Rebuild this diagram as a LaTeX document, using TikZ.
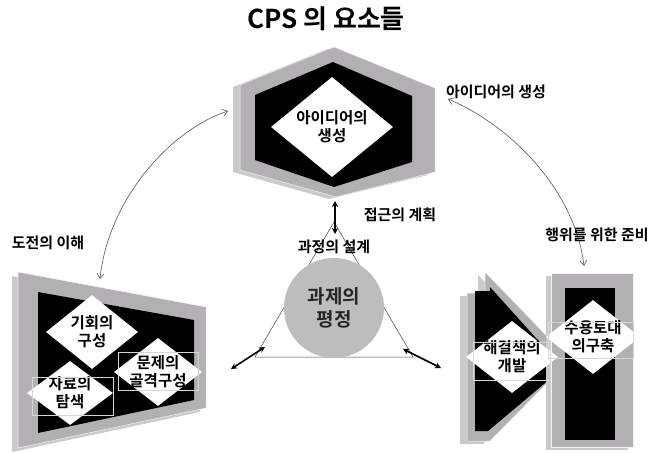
\documentclass[tikz,border=0pt]{standalone}
\usepackage{fontspec}
\setmainfont{Noto Sans CJK KR}[BoldFont={Noto Sans CJK KR Bold}]
\usetikzlibrary{shapes.geometric,arrows.meta}
\definecolor{gfront}{HTML}{B2B0B2}
\definecolor{gback}{HTML}{CACACA}
\definecolor{circfill}{HTML}{BDBDBD}
\definecolor{rectline}{HTML}{D6D6D6}
\definecolor{arcline}{HTML}{555555}
\begin{document}
\begin{tikzpicture}[x=1pt,y=-1pt,
  lbl/.style={font=\bfseries\fontsize{15}{18}\selectfont, align=center, inner sep=0},
  dia/.style={diamond, fill=white, draw=none, inner sep=0},
  dtext/.style={font=\bfseries\fontsize{15.5}{18}\selectfont, align=center, inner sep=0},
  frontgray/.style={fill=gfront, draw=white!85!gfront, line width=0.5pt},
  backgray/.style={fill=gback},
  boxline/.style={draw=rectline, line width=0.6pt},
  thickarrow/.style={line width=1.6pt, {Stealth[length=6pt,width=6pt]}-{Stealth[length=6pt,width=6pt]}},
  arcarrow/.style={draw=arcline, line width=0.6pt, {Straight Barb[length=5pt,width=7pt]}-{Straight Barb[length=5pt,width=7pt]}},
  triline/.style={draw=black!75, line width=0.5pt}
]
\useasboundingbox (0,0) rectangle (652,452);

% title
\node[font=\bfseries\fontsize{26}{30}\selectfont] (title) at (326,19) {CPS 의 요소들};

% ---------- top hexagon ----------
\fill[backgray] (327,49) -- (428,90) -- (428,175) -- (329,199) -- (233,172) -- (233,87) -- cycle;
\path[frontgray] (334,47) -- (435,88) -- (435,172) -- (336,197) -- (240,170) -- (240,85) -- cycle;
\fill[black] (333,62) -- (412,96) -- (412,162) -- (334,187) -- (255,160) -- (255,95) -- cycle;
\node[dia, minimum width=122pt, minimum height=100pt] (idea) at (332,127) {};
\node[dtext] (ideat) at (idea.center) {아이디어의\\생성};

% ---------- left trapezoid ----------
\fill[backgray] (12,276) -- (200,311) -- (200,412) -- (12,452) -- cycle;
\path[frontgray] (18,272) -- (206,307) -- (206,408) -- (18,448) -- cycle;
\fill[black] (38,292) -- (194,320) -- (194,400) -- (38,433) -- cycle;
\node[dia, minimum width=92pt, minimum height=74pt] (opp) at (92,332) {};
\node[dtext] (oppt) at (opp.center) {기회의\\구성};
\node[dia, minimum width=88pt, minimum height=68pt] (frame) at (158,372) {};
\node[dtext] (framet) at (frame.center) {문제의\\골격구성};
\node[dia, minimum width=86pt, minimum height=64pt] (data) at (70,393) {};
\node[dtext] (datat) at (data.center) {자료의\\탐색};
\draw[boxline] (118,352) rectangle (198,390);
\draw[boxline] (32,377) rectangle (113,415);

% ---------- right shape ----------
\fill[backgray] (460,296) -- (478,296) -- (478,275) -- (563,363) -- (483,444) -- (460,444) -- cycle;
\path[frontgray] (467,293) -- (485,293) -- (485,272) -- (570,360) -- (490,441) -- (467,441) -- cycle;
\fill[black] (475,291) -- (490,291) -- (490,287) -- (563,368) -- (488,431) -- (475,431) -- cycle;
\fill[backgray] (546,276) rectangle (628,450);
\path[frontgray] (551,273) rectangle (633,447);
\fill[black] (565,288) rectangle (615,440);
\node[dia, minimum width=92pt, minimum height=72pt] (sol) at (512,357) {};
\node[dtext] (solt) at (sol.center) {해결책의\\개발};
\node[dia, minimum width=94pt, minimum height=74pt] (acc) at (593,337) {};
\node[dtext] (acct) at (acc.center) {수용토대\\의구축};
\draw[boxline] (473,342) rectangle (550,380);
\draw[boxline] (548,322) rectangle (633,358);

% ---------- center triangle and circle ----------
\coordinate (ta) at (334,222);
\coordinate (tl) at (255,357);
\coordinate (tr) at (413,357);
\draw[triline] (ta) -- (tl) -- (tr) -- cycle;
\node[circle, fill=circfill, minimum size=100pt, inner sep=0,
      font=\bfseries\fontsize{19}{23}\selectfont, text=black!85, align=center] (task) at (334,308) {과제의\\평정};

% thick arrows
\coordinate (va) at (335,201);
\coordinate (vb) at (335,234);
\draw[thickarrow] (va) -- (vb);
\coordinate (la) at (265,347);
\coordinate (lb) at (231,369);
\draw[thickarrow] (la) -- (lb);
\coordinate (ra) at (403,349);
\coordinate (rb) at (441,368);
\draw[thickarrow] (ra) -- (rb);

% curved arrows
\coordinate (l1) at (100,279);
\coordinate (l2) at (228,111);
\draw[arcarrow] (l1) .. controls (108,200) and (170,130) .. (l2);
\coordinate (r1) at (448,99);
\coordinate (r2) at (584,266);
\draw[arcarrow] (r1) .. controls (510,125) and (575,190) .. (r2);

% labels
\node[lbl] (plan) at (400,215) {접근의 계획};
\node[lbl] (design) at (334,247) {과정의 설계};
\node[lbl] (chal) at (48,243) {도전의 이해};
\node[lbl] (gen) at (496,92) {아이디어의 생성};
\node[lbl] (act) at (597,235) {행위를 위한 준비};
\end{tikzpicture}
\end{document}
